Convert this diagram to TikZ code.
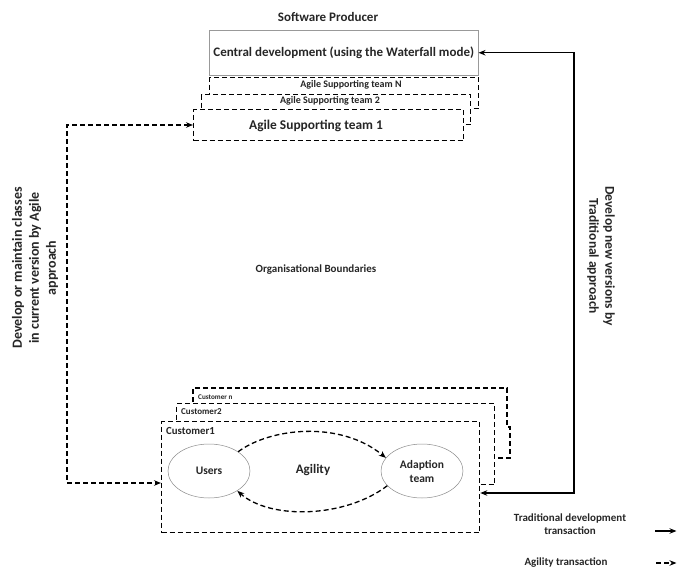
\documentclass[tikz,border=0pt]{standalone}
\usepackage{fontspec}
\setmainfont{Carlito}
\usetikzlibrary{shapes.geometric,arrows.meta,calc}
\newcommand\fsz[2]{\fontsize{#1}{#2}\selectfont\bfseries}
\begin{document}
\begin{tikzpicture}[x=1pt,y=-1pt,
 txt/.style={font=\fsz{10}{12}, text=black!85, inner sep=0pt, align=center},
 agile/.style={line width=1.3pt, dash pattern=on 5pt off 3pt},
 trad/.style={line width=1.2pt},
 tip/.style={-{Stealth[length=7pt,width=5.5pt]}},
 tips/.style={{Stealth[length=7pt,width=5.5pt]}-{Stealth[length=7pt,width=5.5pt]}},
 dbox/.style={draw, agile, fill=white, anchor=north west, inner sep=0pt},
 oval/.style={ellipse, draw=black!45, line width=0.5pt, minimum width=82pt, minimum height=54pt, inner sep=0pt, align=center, font=\fsz{11.5}{14}, text=black!85}]

\useasboundingbox (0,0) rectangle (677,572);

% Software producer
\node[txt, font=\fsz{13}{15}] (sp) at (328,17) {Software Producer};
\node[draw=black!40, line width=0.5pt, anchor=north west, minimum width=269pt, minimum height=45pt, inner sep=0pt, font=\fsz{13}{15}, text=black!85] (cd) at (209,30) {Central development (using the Waterfall mode)};

% agile teams
\node[dbox, minimum width=269pt, minimum height=31pt] (tN) at (209,77) {};
\node[dbox, minimum width=269pt, minimum height=30pt] (t2) at (201,94) {};
\node[dbox, minimum width=270pt, minimum height=31pt] (t1) at (193,109) {};
\node[txt, font=\fsz{10}{11}] (tNl) at (351,85) {Agile Supporting team N};
\node[txt, font=\fsz{10}{11}] (t2l) at (330,101) {Agile Supporting team 2};
\node[txt, font=\fsz{13.4}{15}] (t1l) at (316,126) {Agile Supporting team 1};

% organisational boundaries
\node[txt, font=\fsz{11}{13}] (ob) at (316,270) {Organisational Boundaries};

% customers
\draw[agile, fill=white] (193,458) -- (193,388) -- (507,388) -- (507,427) -- (510,427) -- (510,458) -- cycle;
\node[dbox, minimum width=318pt, minimum height=81pt] (c2) at (176,403) {};
\node[dbox, minimum width=318pt, minimum height=111pt] (c1) at (161,421) {};
\node[txt, font=\fsz{7.2}{8}, anchor=west] (cnl) at (198,397) {Customer n};
\node[txt, font=\fsz{9}{10}, anchor=west] (c2l) at (181,412) {Customer2};
\node[txt, font=\fsz{10.8}{12}, anchor=west] (c1l) at (166,431) {Customer1};

\node[oval] (users) at (209,471) {Users};
\node[oval] (adapt) at (422,471) {Adaption\\team};
\node[txt, font=\fsz{13}{15}] (ag) at (313,470) {Agility};

\draw[agile, tip] (users.north east) .. controls (270,428) and (340,420) .. (adapt.160);
\draw[agile, tip] (adapt.203) .. controls (345,518) and (270,520) .. (users.-35);

% left agile arrow
\coordinate (l1) at (67,125);
\coordinate (l2) at (67,483);
\draw[agile, tips] (t1.west |- l1) -- (l1) -- (l2) -- (l2 -| c1.west);
\node[txt, rotate=90, font=\fsz{14}{17}] (lt) at (35,268) {Develop or maintain classes\\in current version by Agile\\approach};

% right traditional arrow
\coordinate (r2) at (574,493);
\draw[trad, tips] (cd.east) -- (cd.east -| r2) -- (r2) -- (r2 -| c1.east);
\node[txt, rotate=-90, font=\fsz{13.5}{16}] (rt) at (601,256) {Develop new versions by\\Traditional approach};

% legend
\node[txt, font=\fsz{11}{13}] (lg1) at (570,524) {Traditional development\\transaction};
\coordinate (lg1a) at (655,531);
\coordinate (lg1b) at (676.5,531);
\draw[trad, tip] (lg1a) -- (lg1b);
\node[txt, font=\fsz{11}{13}] (lg2) at (566,563) {Agility transaction};
\coordinate (lg2a) at (656,563);
\coordinate (lg2b) at (676.5,563);
\draw[agile, tip] (lg2a) -- (lg2b);
\end{tikzpicture}
\end{document}
